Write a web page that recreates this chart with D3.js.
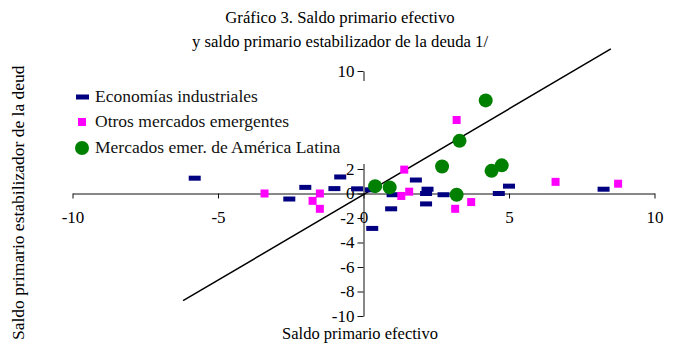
<!DOCTYPE html>
<html>
<head>
<meta charset="utf-8">
<script src="https://cdn.jsdelivr.net/npm/d3@7"></script>
<style>
  body { margin: 0; background: #fff; }
  svg { font-family: "Liberation Serif", "Times New Roman", serif; }
</style>
</head>
<body>
<svg id="chart" width="675" height="343"></svg>
<script>
// data: [saldo primario efectivo, saldo estabilizador]
const industriales = [
  [-5.8, 1.25], [-2.55, -0.45], [-2.0, 0.5], [-1.0, 0.4], [-0.8, 1.35],
  [-0.22, 0.38], [0.25, 0.3], [0.3, -2.85], [0.95, -1.25], [1.0, -0.1],
  [1.8, 1.1], [2.2, 0.35], [2.15, 0.0], [2.15, -0.85], [2.75, -0.1],
  [4.65, 0.0], [5.0, 0.6], [8.25, 0.35]
];
const otrosEmergentes = [
  [-3.4, 0.0], [-1.5, 0.0], [-1.75, -0.6], [-1.5, -1.25], [1.4, 1.95],
  [1.3, -0.2], [1.57, 0.15], [3.15, -1.25], [3.7, -0.7], [6.6, 0.95],
  [8.75, 0.8], [3.2, 6.0]
];
const americaLatina = [
  [0.4, 0.6], [0.9, 0.5], [2.7, 2.2], [3.3, 4.3], [4.2, 7.6],
  [4.4, 1.85], [4.75, 2.3], [3.2, -0.1]
];
const lineaTendencia = [[-6.2, -8.75], [8.5, 11.8]];
const xTicks = [-10, -5, 0, 5, 10];
const yTicks = [-10, -8, -6, -4, -2, 0, 2, 4, 6, 8, 10];
const seriesNames = ["Economías industriales", "Otros mercados emergentes", "Mercados emer. de América Latina"];

const svg = d3.select("#chart");

const x = d3.scaleLinear().domain([-10, 10]).range([72.5, 654.5]);
const y = d3.scaleLinear().domain([-10, 10]).range([316, 71]);
const fmt = d => String(d); // plain hyphen minus, like the original

// title
svg.append("text").attr("x", 340).attr("y", 23).attr("text-anchor", "middle")
  .attr("font-size", 16.7).attr("fill", "#000").text("Gráfico 3. Saldo primario efectivo");
svg.append("text").attr("x", 340).attr("y", 47).attr("text-anchor", "middle")
  .attr("font-size", 16.7).attr("fill", "#000").text("y saldo primario estabilizador de la deuda 1/");

// axes
const xAxis = svg.append("g").attr("transform", `translate(0,${y(0)})`)
  .call(d3.axisBottom(x).tickValues(xTicks).tickFormat(fmt).tickSize(5).tickSizeOuter(0).tickPadding(12));
const yAxis = svg.append("g").attr("transform", `translate(${x(0)},0)`)
  .call(d3.axisLeft(y).tickValues(yTicks).tickFormat(fmt).tickSize(6).tickSizeOuter(0).tickPadding(3));

[xAxis, yAxis].forEach(a => {
  a.selectAll("path, line").attr("stroke", "#111");
  a.selectAll("text").attr("font-size", 17).attr("fill", "#000")
    .attr("font-family", "Liberation Serif, Times New Roman, serif");
});
xAxis.selectAll("text").attr("dy", "0.71em");

// trend line
svg.append("line")
  .attr("x1", x(lineaTendencia[0][0])).attr("y1", y(lineaTendencia[0][1]))
  .attr("x2", x(lineaTendencia[1][0])).attr("y2", y(lineaTendencia[1][1]))
  .attr("stroke", "#000").attr("stroke-width", 1.5);

// legend box (white, hides part of the y axis like the original)
const legend = svg.append("g");
legend.append("rect").attr("x", 68).attr("y", 81).attr("width", 298).attr("height", 83).attr("fill", "#fff");

// marks
svg.append("g").selectAll("rect").data(industriales).join("rect")
  .attr("x", d => x(d[0]) - 6).attr("y", d => y(d[1]) - 2.5)
  .attr("width", 12).attr("height", 5).attr("fill", "#000080");

svg.append("g").selectAll("rect").data(otrosEmergentes).join("rect")
  .attr("x", d => x(d[0]) - 4).attr("y", d => y(d[1]) - 4)
  .attr("width", 8).attr("height", 8).attr("fill", "#ff00ff");

svg.append("g").selectAll("circle").data(americaLatina).join("circle")
  .attr("cx", d => x(d[0])).attr("cy", d => y(d[1])).attr("r", 7)
  .attr("fill", "#008000");

// legend entries
const ly = [97, 122, 148];
legend.append("rect").attr("x", 76).attr("y", ly[0] - 2.5).attr("width", 13).attr("height", 5).attr("fill", "#000080");
legend.append("rect").attr("x", 78).attr("y", ly[1] - 4).attr("width", 8).attr("height", 8).attr("fill", "#ff00ff");
legend.append("circle").attr("cx", 82).attr("cy", ly[2]).attr("r", 7).attr("fill", "#008000");
legend.selectAll("text").data(seriesNames).join("text")
  .attr("x", 95).attr("y", (d, i) => ly[i] + 5)
  .attr("font-size", 17.5).attr("fill", "#111").text(d => d);

// axis titles
svg.append("text").attr("x", 360).attr("y", 339).attr("text-anchor", "middle")
  .attr("font-size", 16.5).attr("fill", "#000").text("Saldo primario efectivo");
svg.append("text").attr("transform", "translate(24,340) rotate(-90)")
  .attr("font-size", 17.5).attr("fill", "#000").text("Saldo primario estabilizador de la deud");
</script>
</body>
</html>
